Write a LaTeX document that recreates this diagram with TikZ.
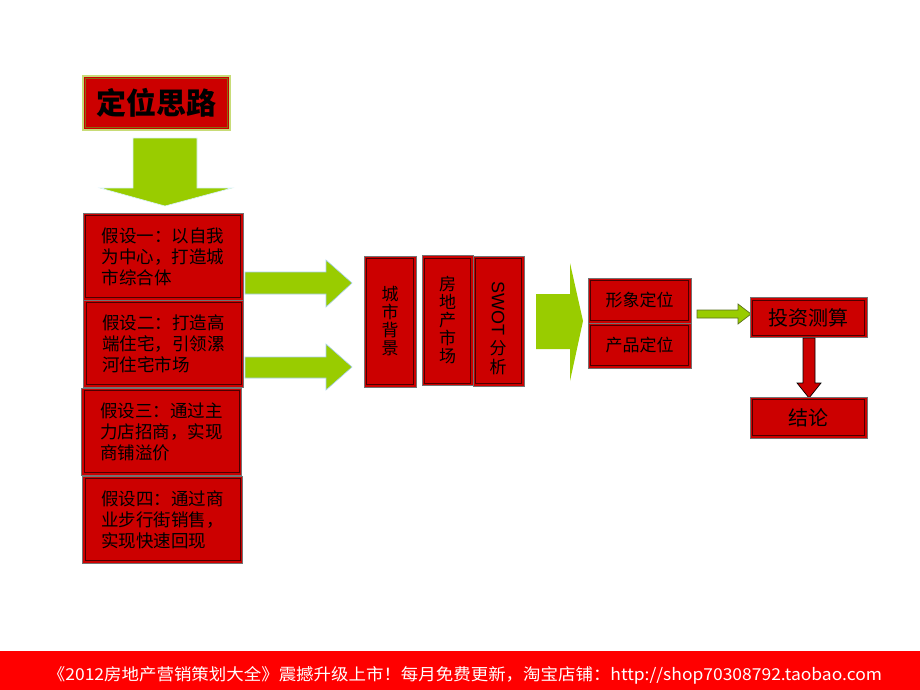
\documentclass[tikz,border=0pt]{standalone}
\usepackage{fontspec}
\usepackage{graphicx}
\newfontfamily\cjk{Noto Sans CJK SC}
\newfontfamily\arialish{Liberation Sans}
\usetikzlibrary{calc}
\definecolor{boxred}{HTML}{CC0000}
\definecolor{footred}{HTML}{FF0000}
\definecolor{agreen}{HTML}{99CC00}
\definecolor{edgeblue}{HTML}{A8D0F0}
\definecolor{innerdark}{HTML}{4A0000}
\definecolor{titleedge}{HTML}{C8DC78}
\definecolor{titleinner}{HTML}{8A6A10}
\definecolor{olive}{HTML}{5A7020}
\begin{document}
\begin{tikzpicture}[x=1pt,y=-1pt,
  rbox/.style={fill=boxred, draw=black!55, line width=0.8pt, inner sep=0pt, text=black,
    path picture={\draw[innerdark, line width=1pt]
      ([shift={(2.5pt,-2.5pt)}]path picture bounding box.north west) rectangle
      ([shift={(-2.5pt,2.5pt)}]path picture bounding box.south east);}},
  tbox/.style={fill=boxred, draw=titleedge, line width=1.6pt, inner sep=0pt, text=black,
    path picture={\draw[titleinner, line width=0.8pt]
      ([shift={(2.5pt,-2.5pt)}]path picture bounding box.north west) rectangle
      ([shift={(-2.5pt,2.5pt)}]path picture bounding box.south east);}},
  hyp/.style={rbox, minimum width=160pt, minimum height=87pt, align=left,
    font=\cjk\fontsize{17.5}{21}\selectfont},
  vbox/.style={rbox, minimum width=51pt, minimum height=130pt, align=center,
    font=\cjk\fontsize{17}{18}\selectfont},
  hbox/.style={rbox, font=\cjk\fontsize{17}{20}\selectfont},
  garrow/.style={fill=agreen, draw=edgeblue, line width=0.6pt},
]
\useasboundingbox (0,0) rectangle (920,690);
\fill[white] (0,0) rectangle (920,690);

% title
\node[tbox, minimum width=147pt, minimum height=54pt,
  font=\cjk\bfseries\fontsize{30}{32}\selectfont] (title) at (156.5,103) {定位思路};

% down arrow
\draw[garrow, draw=cyan!15] (133,138) -- (197,138) -- (197,188) -- (232,188) -- (165,206)
  -- (100,188) -- (133,188) -- cycle;

% hypothesis boxes
\node[hyp] (h1) at (163,256.5) {假设一：以自我\\为中心，打造城\\市综合体};
\node[hyp] (h2) at (163.5,343.5) {假设二：打造高\\端住宅，引领漯\\河住宅市场};
\node[hyp] (h3) at (161.5,431.5) {假设三：通过主\\力店招商，实现\\商铺溢价};
\node[hyp] (h4) at (162.5,519.5) {假设四：通过商\\业步行街销售，\\实现快速回现};

% analysis boxes
\node[vbox, minimum width=52pt, minimum height=131pt] (city) at (390,321.5) {城\\市\\背\\景};
\node[vbox] (market) at (447.5,320.5) {房\\地\\产\\市\\场};
\node[vbox] (swot) at (498.5,321) {};
\node[rotate=-90, font=\arialish\fontsize{18}{18}\selectfont, text=black, inner sep=0pt]
  (swott) at (498,308.5) {SWOT};
\node[font=\cjk\fontsize{17}{19}\selectfont, text=black, align=center, inner sep=0pt]
  (swotc) at (498,357.5) {分\\析};

% green arrows to analysis
\draw[garrow] (245,272) -- (326,272) -- (326,260) -- (352,283) -- (326,307) -- (326,294)
  -- (245,294) -- cycle;
\draw[garrow] (245,357) -- (326,357) -- (326,344) -- (352,367) -- (326,390) -- (326,378)
  -- (245,378) -- cycle;

% big arrow
\fill[agreen] (536,294) -- (570,294) -- (570,263) -- (583,321) -- (570,381) -- (570,349)
  -- (536,349) -- cycle;

% positioning boxes
\node[hbox, minimum width=103pt, minimum height=45pt] (image) at (639.5,300.5) {形象定位};
\node[hbox, minimum width=103pt, minimum height=45pt] (product) at (639.5,345.5) {产品定位};

% small green arrow
\draw[fill=agreen, draw=olive, line width=0.7pt] (697,310) -- (738,310) -- (738,304) -- (751,314)
  -- (738,324) -- (738,318) -- (697,318) -- cycle;

% invest box
\node[hbox, minimum width=117pt, minimum height=40pt,
  font=\cjk\fontsize{20}{22}\selectfont] (invest) at (808.5,317.5) {投资测算};

% red down arrow
\draw[fill=boxred, draw=black, line width=0.7pt] (803,338) -- (815,338) -- (815,383) -- (821,383)
  -- (809,398) -- (797,383) -- (803,383) -- cycle;

% conclusion
\node[hbox, minimum width=117pt, minimum height=41pt,
  font=\cjk\fontsize{20}{22}\selectfont] (concl) at (808.5,417.5) {结论};

% footer
\fill[footred] (0,651) rectangle (920,690);
\node[text=white, inner sep=0pt, font=\cjk] (foot) at (465,675)
  {\resizebox{834pt}{14pt}{《2012房地产营销策划大全》震撼升级上市！每月免费更新，淘宝店铺：http://shop70308792.taobao.com}};
\end{tikzpicture}
\end{document}
